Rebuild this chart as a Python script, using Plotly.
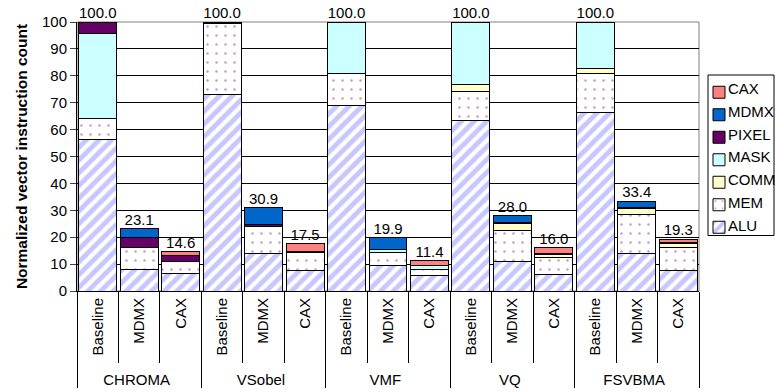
import plotly.graph_objects as go

groups = ["CHROMA", "VSobel", "VMF", "VQ", "FSVBMA"]
variants = ["Baseline", "MDMX", "CAX"]

ALU = [56.5, 8.1, 6.4, 73.1, 14.1, 7.7, 69.0, 9.6, 5.8, 63.2, 11.0, 6.3, 66.5, 13.9, 7.7]
MEM = [7.6, 7.9, 4.5, 26.4, 10.0, 6.6, 11.7, 4.7, 2.3, 11.1, 11.4, 6.2, 14.4, 14.7, 8.4]
COMM = [0, 0, 0, 0, 0, 0, 0, 0, 0, 2.5, 2.6, 1.2, 1.8, 2.0, 1.6]
MASK = [31.8, 0, 0, 0, 0, 0, 19.3, 1.2, 1.2, 23.2, 0, 0, 17.3, 0, 0]
PIXEL = [4.1, 4.0, 2.2, 0.5, 0.6, 0.5, 0, 0, 0, 0, 0.4, 0.4, 0, 0.4, 0.4]
MDMX = [0, 3.1, 0, 0, 6.2, 0, 0, 4.4, 0, 0, 2.6, 0, 0, 2.4, 0]
CAX = [0, 0, 1.5, 0, 0, 2.7, 0, 0, 2.1, 0, 0, 1.9, 0, 0, 1.2]
TOTALS = [100.0, 23.1, 14.6, 100.0, 30.9, 17.5, 100.0, 19.9, 11.4, 100.0, 28.0, 16.0, 100.0, 33.4, 19.3]

xg = [g for g in groups for _ in variants]
xv = [v for _ in groups for v in variants]
X = [xg, xv]

series = [
    ("ALU", ALU, dict(color="white", pattern=dict(shape="/", fgcolor="#8f8fff", bgcolor="white", size=9, solidity=0.55))),
    ("MEM", MEM, dict(color="white", pattern=dict(shape=".", fgcolor="#993366", bgcolor="white", size=9, solidity=0.06))),
    ("COMM", COMM, dict(color="#ffffcc")),
    ("MASK", MASK, dict(color="#ccffff")),
    ("PIXEL", PIXEL, dict(color="#660066")),
    ("MDMX", MDMX, dict(color="#0066cc")),
    ("CAX", CAX, dict(color="#ff8080")),
]

FS = 15
W, H = 775, 392
ML, MR, MT, MB = 77, 76, 22, 101
PW, PH = W - ML - MR, H - MT - MB


def px_x(x):
    return (x - ML) / PW


def px_y(y):
    return (H - MB - y) / PH


fig = go.Figure()
for name, vals, mk in series:
    y = [v if v else None for v in vals]
    fig.add_trace(go.Bar(
        x=X, y=y, name=" ",
        marker=dict(**mk, line=dict(color="black", width=1)),
        legendgroup=name, hoverinfo="skip",
    ))

fig.add_trace(go.Scatter(
    x=X, y=TOTALS, mode="text",
    text=[f"{t:.1f}" for t in TOTALS],
    textposition="top center",
    textfont=dict(family="Liberation Sans, Arial", size=FS, color="black"),
    showlegend=False, cliponaxis=False, hoverinfo="skip",
))

# legend labels (top to bottom: reversed stacking order)
annotations = []
for i, (name, _, _) in enumerate(reversed(series)):
    annotations.append(dict(
        x=px_x(726), y=px_y(88.5 + 22.8 * i), xref="paper", yref="paper",
        text=name, showarrow=False, xanchor="left", yanchor="middle",
        font=dict(family="Liberation Sans, Arial", size=FS, color="black"),
    ))

fig.update_layout(
    width=W, height=H,
    margin=dict(l=ML, r=MR, t=MT, b=MB, autoexpand=False),
    barmode="stack", bargap=0.085,
    plot_bgcolor="white", paper_bgcolor="white",
    font=dict(family="Liberation Sans, Arial", size=FS, color="black"),
    legend=dict(
        x=px_x(699), y=px_y(76), xanchor="left", yanchor="top",
        traceorder="reversed", borderwidth=0,
        font=dict(size=FS), tracegroupgap=3, bgcolor="rgba(0,0,0,0)",
        itemwidth=30,
    ),
    annotations=annotations,
    shapes=[
        dict(type="rect", xref="paper", yref="paper", x0=0, y0=0, x1=1, y1=1,
             line=dict(color="#808080", width=1), layer="below"),
        dict(type="rect", xref="paper", yref="paper", x0=px_x(708), x1=px_x(774),
             y0=px_y(235.5), y1=px_y(75), line=dict(color="black", width=1),
             fillcolor="rgba(0,0,0,0)"),
    ],
)

fig.update_yaxes(
    range=[0, 100], dtick=10, showgrid=True, gridcolor="black", gridwidth=1,
    showline=True, linecolor="black", linewidth=1, ticks="outside", ticklen=6,
    tickfont=dict(size=FS), zeroline=False, automargin=False,
    title=dict(text="<b>Normalized vector instruction count</b>", font=dict(size=15.5), standoff=10),
)
fig.update_xaxes(
    type="multicategory", range=[-0.5, 14.5],
    showline=True, linecolor="black", linewidth=1,
    ticks="outside", tickson="boundaries", ticklen=71, tickcolor="black",
    tickangle=-90, tickfont=dict(size=FS), automargin=False,
    showdividers=True, dividercolor="black", dividerwidth=1,
)

fig.write_html("out.html", config={"displayModeBar": False},
               post_script="document.body.style.margin='0px';")
